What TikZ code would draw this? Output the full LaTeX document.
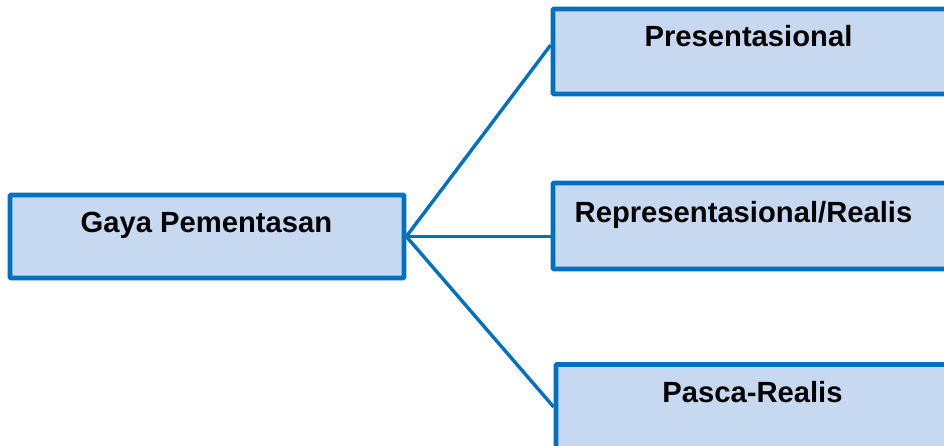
\documentclass[tikz,border=0pt]{standalone}
\usepackage{fontspec}
\setmainfont{Liberation Sans}
\usetikzlibrary{calc}
\definecolor{boxblue}{HTML}{0070C0}
\definecolor{boxfill}{HTML}{C6D9F1}
\tikzset{
  box/.style={draw=boxblue, fill=boxfill, line width=4.6pt, rectangle,
    minimum width=394pt, minimum height=85pt, inner sep=0pt, rounded corners=0.8pt},
  lbl/.style={anchor=base, inner sep=0pt, font=\fontsize{29.2}{35}\selectfont\bfseries},
  conn/.style={draw=boxblue, line width=3.4pt}
}
\begin{document}
\begin{tikzpicture}[x=1pt,y=-1pt]
\useasboundingbox (0,0) rectangle (944,446);
\node[box, minimum height=83pt] (gaya) at (207,236.5) {};
\node[box] (pres) at (750,51.5) {};
\node[box, minimum height=86pt] (repr) at (750,226) {};
\node[box] (pasca) at (753,407) {};
\node[lbl] (tgaya) at (206.5,233) {Gaya Pementasan};
\node[lbl] (tpres) at (748.5,47) {Presentasional};
\node[lbl] (trepr) at (743.5,223) {Representasional/Realis};
\node[lbl] (tpasca) at (752.5,402) {Pasca-Realis};
\coordinate (e1) at ($(pres.west)+(0,-6.5)$);
\coordinate (e2) at (repr.west |- gaya.east);
\coordinate (e3) at (pasca.west);
\draw[conn] (gaya.east) -- (e1);
\draw[conn] (gaya.east) -- (e2);
\draw[conn] (gaya.east) -- (e3);
\end{tikzpicture}
\end{document}
